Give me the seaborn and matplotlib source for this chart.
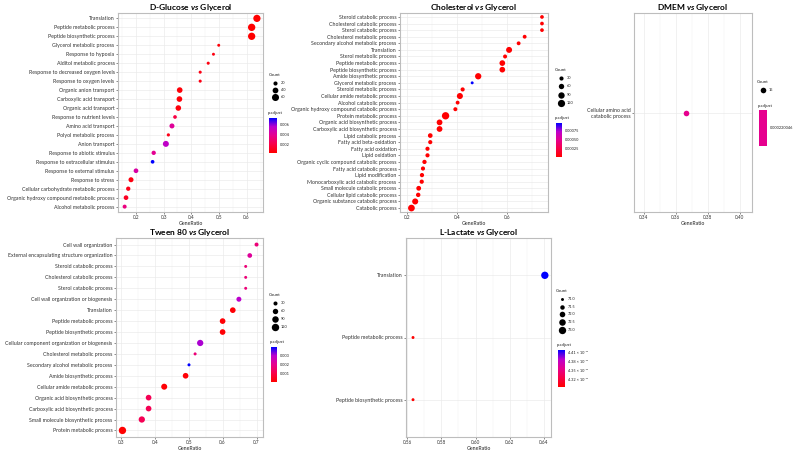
import numpy as np
import pandas as pd
import matplotlib
matplotlib.use("Agg")
import matplotlib.pyplot as plt
import seaborn as sns
from matplotlib.colors import LinearSegmentedColormap, Normalize
from matplotlib.cm import ScalarMappable
from matplotlib.ticker import AutoMinorLocator, FixedLocator, FormatStrFormatter

# ---- data (top row of each panel first) ----
glucose_terms = [
    "Translation", "Peptide metabolic process", "Peptide biosynthetic process",
    "Glycerol metabolic process", "Response to hypoxia", "Alditol metabolic process",
    "Response to decreased oxygen levels", "Response to oxygen levels",
    "Organic anion transport", "Carboxylic acid transport", "Organic acid transport",
    "Response to nutrient levels", "Amino acid transport", "Polyol metabolic process",
    "Anion transport", "Response to abiotic stimulus", "Response to extracellular stimulus",
    "Response to external stimulus", "Response to stress",
    "Cellular carbohydrate metabolic process",
    "Organic hydroxy compound metabolic process", "Alcohol metabolic process",
]
glucose_ratio = [0.637, 0.618, 0.618, 0.499, 0.480, 0.461, 0.432, 0.432, 0.358, 0.357,
                 0.353, 0.341, 0.330, 0.317, 0.308, 0.264, 0.260, 0.200, 0.182, 0.172,
                 0.164, 0.159]
glucose_count = [63, 65, 64, 10, 10, 11, 11, 11, 38, 38, 37, 16, 30, 12, 43, 22, 16, 26,
                 30, 22, 26, 19]
glucose_padj = [0.0004, 0.0004, 0.0004, 0.0006, 0.0008, 0.0008, 0.0009, 0.0009, 0.0006,
                0.0006, 0.0007, 0.0020, 0.0042, 0.0010, 0.0055, 0.0040, 0.0074, 0.0045,
                0.0008, 0.0010, 0.0012, 0.0035]

chol_terms = [
    "Steroid catabolic process", "Cholesterol catabolic process", "Sterol catabolic process",
    "Cholesterol metabolic process", "Secondary alcohol metabolic process", "Translation",
    "Sterol metabolic process", "Peptide metabolic process", "Peptide biosynthetic process",
    "Amide biosynthetic process", "Glycerol metabolic process", "Steroid metabolic process",
    "Cellular amide metabolic process", "Alcohol catabolic process",
    "Organic hydroxy compound catabolic process", "Protein metabolic process",
    "Organic acid biosynthetic process", "Carboxylic acid biosynthetic process",
    "Lipid catabolic process", "Fatty acid beta-oxidation", "Fatty acid oxidation",
    "Lipid oxidation", "Organic cyclic compound catabolic process",
    "Fatty acid catabolic process", "Lipid modification",
    "Monocarboxylic acid catabolic process", "Small molecule catabolic process",
    "Cellular lipid catabolic process", "Organic substance catabolic process",
    "Catabolic process",
]
chol_ratio = [0.739, 0.739, 0.739, 0.670, 0.646, 0.608, 0.592, 0.581, 0.581, 0.485, 0.461,
              0.423, 0.412, 0.403, 0.394, 0.355, 0.331, 0.331, 0.294, 0.294, 0.283, 0.283,
              0.271, 0.265, 0.261, 0.260, 0.248, 0.246, 0.234, 0.219]
chol_count = [21, 21, 21, 24, 24, 78, 27, 69, 69, 88, 8, 30, 80, 24, 27, 125, 72, 72, 42,
              30, 30, 30, 33, 30, 32, 32, 45, 36, 80, 102]
chol_padj = [0.00004, 0.00004, 0.00004, 0.00004, 0.00004, 0.00004, 0.00004, 0.00004,
             0.00004, 0.00004, 0.00094, 0.00004, 0.00004, 0.00004, 0.00004, 0.00004,
             0.00004, 0.00004, 0.00004, 0.00004, 0.00004, 0.00004, 0.00004, 0.00004,
             0.00004, 0.00004, 0.00004, 0.00004, 0.00004, 0.00004]

dmem_terms = ["Cellular amino acid\ncatabolic process"]
dmem_ratio = [0.366]
dmem_count = [15]
dmem_padj = [0.000220046]

tween_terms = [
    "Cell wall organization", "External encapsulating structure organization",
    "Steroid catabolic process", "Cholesterol catabolic process", "Sterol catabolic process",
    "Cell wall organization or biogenesis", "Translation", "Peptide metabolic process",
    "Peptide biosynthetic process", "Cellular component organization or biogenesis",
    "Cholesterol metabolic process", "Secondary alcohol metabolic process",
    "Amide biosynthetic process", "Cellular amide metabolic process",
    "Organic acid biosynthetic process", "Carboxylic acid biosynthetic process",
    "Small molecule biosynthetic process", "Protein metabolic process",
]
tween_ratio = [0.700, 0.680, 0.668, 0.668, 0.668, 0.648, 0.630, 0.600, 0.600, 0.534, 0.519,
               0.501, 0.491, 0.428, 0.382, 0.382, 0.362, 0.305]
tween_count = [29, 43, 12, 12, 12, 50, 67, 67, 67, 84, 13, 13, 67, 76, 67, 67, 84, 118]
tween_padj = [0.0017, 0.0022, 0.0017, 0.0017, 0.0017, 0.0030, 0.0001, 0.0001, 0.0001,
              0.0031, 0.0017, 0.0040, 0.0001, 0.0001, 0.0012, 0.0012, 0.0012, 0.00005]

lact_terms = ["Translation", "Peptide metabolic process", "Peptide biosynthetic process"]
lact_ratio = [0.6405, 0.5635, 0.5635]
lact_count = [73, 71, 71]
lact_padj = [4.417e-11, 4.297e-11, 4.297e-11]

# ---- layout ----
W, H = 795, 451
SIZES = (4.5, 28)

plt.rcParams['font.family'] = ['Lato', 'DejaVu Sans']
plt.rcParams['mathtext.fontset'] = 'custom'
plt.rcParams['mathtext.it'] = 'Lato:italic:bold'
plt.rcParams['mathtext.rm'] = 'Lato:bold'

# red (low p.adjust) -> pink -> magenta -> purple -> blue (high p.adjust)
cmap = LinearSegmentedColormap.from_list("padj", [
    (0.0, '#FF0000'), (0.25, '#F80048'), (0.5, '#E6008E'),
    (0.75, '#BC00CC'), (1.0, '#0000FF')])


def px_rect(l, t, r, b):
    return [l / W, 1 - b / H, (r - l) / W, (b - t) / H]


def area(c, norm):
    lo, hi = norm
    return SIZES[0] + (c - lo) / (hi - lo) * (SIZES[1] - SIZES[0])


fig = plt.figure(figsize=(W / 100, H / 100), dpi=100)
lax = fig.add_axes([0, 0, 1, 1])
lax.set_xlim(0, W)
lax.set_ylim(H, 0)
lax.axis('off')


def dot_panel(rect, title, terms, ratio, count, padj, xlim, xticks, fmt, size_norm, hue_norm):
    ax = fig.add_axes(px_rect(*rect))
    df = pd.DataFrame({'Description': terms, 'GeneRatio': ratio,
                       'Count': count, 'p.adjust': padj})
    sns.scatterplot(data=df, x='GeneRatio', y='Description', hue='p.adjust', size='Count',
                    palette=cmap, hue_norm=hue_norm, sizes=SIZES, size_norm=size_norm,
                    linewidth=0, legend=False, ax=ax, zorder=3)
    n = len(terms)
    ax.set_ylim(n - 0.4, -0.6)
    ax.set_xlim(*xlim)
    ax.xaxis.set_major_locator(FixedLocator(xticks))
    ax.xaxis.set_major_formatter(FormatStrFormatter(fmt))
    ax.xaxis.set_minor_locator(AutoMinorLocator(2))
    ax.grid(which='major', color='#EBEBEB', lw=0.5)
    ax.grid(which='minor', axis='x', color='#F2F2F2', lw=0.35)
    ax.set_axisbelow(True)
    for s in ax.spines.values():
        s.set_color('#BDBDBD')
        s.set_linewidth(0.8)
    ax.tick_params(axis='y', labelsize=3.8, length=1.5, width=0.4, pad=1,
                   colors='#333333', labelcolor='#333333')
    ax.tick_params(axis='x', which='major', labelsize=3.3, length=1.5, width=0.4, pad=1,
                   colors='#333333', labelcolor='#333333')
    ax.tick_params(axis='x', which='minor', length=0)
    ax.set_ylabel('')
    ax.set_xlabel('GeneRatio', fontsize=3.8, labelpad=0.5, color='#222222')
    ax.set_title(title, fontsize=6, fontweight='bold', pad=2.5)
    return ax


def count_legend(x, y, counts, labels, step, size_norm):
    lax.text(x - 6, y, 'Count', fontsize=3.2, va='center', ha='left', color='#222222')
    for i, (c, lab) in enumerate(zip(counts, labels)):
        yy = y + 8 + i * step
        lax.scatter([x], [yy], s=area(c, size_norm), color='black', linewidths=0)
        lax.text(x + 6, yy, lab, fontsize=2.8, va='center', ha='left', color='#222222')


def padj_bar(rect, hue_norm, ticks, labels):
    l, t, r, b = rect
    lax.text(l - 1, t - 5, 'p.adjust', fontsize=3.2, va='center', ha='left', color='#222222')
    cax = fig.add_axes(px_rect(*rect))
    cb = fig.colorbar(ScalarMappable(Normalize(*hue_norm), cmap), cax=cax)
    cb.outline.set_visible(False)
    cb.set_ticks(ticks)
    cb.set_ticklabels(labels)
    cax.tick_params(labelsize=2.8, length=0, pad=2, labelcolor='#222222')


# D-Glucose
g_size, g_hue = (10, 65), (0.0004, 0.0074)
dot_panel((118, 13, 263, 212), 'D-Glucose $\\mathit{vs}$ Glycerol', glucose_terms,
          glucose_ratio, glucose_count, glucose_padj, (0.135, 0.659),
          [0.2, 0.3, 0.4, 0.5, 0.6], '%.1f', g_size, g_hue)
count_legend(275, 75, [20, 40, 60], ['20', '40', '60'], 7, g_size)
padj_bar((269, 118, 277, 153), g_hue, [0.002, 0.004, 0.006], ['0.002', '0.004', '0.006'])

# Cholesterol
c_size, c_hue = (8, 125), (0.000035, 0.00094)
dot_panel((400, 13, 548, 212), 'Cholesterol $\\mathit{vs}$ Glycerol', chol_terms,
          chol_ratio, chol_count, chol_padj, (0.1735, 0.763), [0.2, 0.4, 0.6], '%.1f',
          c_size, c_hue)
count_legend(561, 70, [30, 60, 90, 120], ['30', '60', '90', '120'], 8.3, c_size)
padj_bar((556, 123, 562, 157), c_hue, [0.00025, 0.0005, 0.00075],
         ['0.00025', '0.00050', '0.00075'])

# DMEM
d_size, d_hue = (14, 16), (0.000120046, 0.000320046)
dot_panel((634, 13, 752, 212), 'DMEM $\\mathit{vs}$ Glycerol', dmem_terms, dmem_ratio,
          dmem_count, dmem_padj, (0.3338, 0.4075), [0.34, 0.36, 0.38, 0.40], '%.2f',
          d_size, d_hue)
count_legend(763, 82, [15], ['15'], 8, d_size)
lax.text(758, 106, 'p.adjust', fontsize=3.2, va='center', ha='left', color='#222222')
lax.add_patch(plt.Rectangle((759, 110), 8, 36, color=cmap(0.5), lw=0))
lax.text(770, 128, '0.000220046', fontsize=2.8, va='center', ha='left', color='#222222')

# Tween 80
t_size, t_hue = (12, 118), (0.00003, 0.004)
dot_panel((116, 238, 263, 437), 'Tween 80 $\\mathit{vs}$ Glycerol', tween_terms,
          tween_ratio, tween_count, tween_padj, (0.286, 0.719),
          [0.3, 0.4, 0.5, 0.6, 0.7], '%.1f', t_size, t_hue)
count_legend(275, 295, [30, 60, 90, 120], ['30', '60', '90', '120'], 8, t_size)
padj_bar((271, 347, 277, 382), t_hue, [0.001, 0.002, 0.003], ['0.001', '0.002', '0.003'])

# L-Lactate
l_size, l_hue = (71, 73), (4.297e-11, 4.417e-11)
dot_panel((406, 238, 551, 437), 'L-Lactate $\\mathit{vs}$ Glycerol', lact_terms,
          lact_ratio, lact_count, lact_padj, (0.5594, 0.6441),
          [0.56, 0.58, 0.60, 0.62, 0.64], '%.2f', l_size, l_hue)
count_legend(562, 291, [71, 71.5, 72, 72.5, 73], ['71.0', '71.5', '72.0', '72.5', '73.0'],
             7.7, l_size)
padj_bar((558, 350, 565, 387), l_hue, [4.32e-11, 4.35e-11, 4.38e-11, 4.41e-11],
         ['4.32 × 10⁻¹¹', '4.35 × 10⁻¹¹', '4.38 × 10⁻¹¹', '4.41 × 10⁻¹¹'])

fig.savefig('out.png', dpi=100, facecolor='white')
